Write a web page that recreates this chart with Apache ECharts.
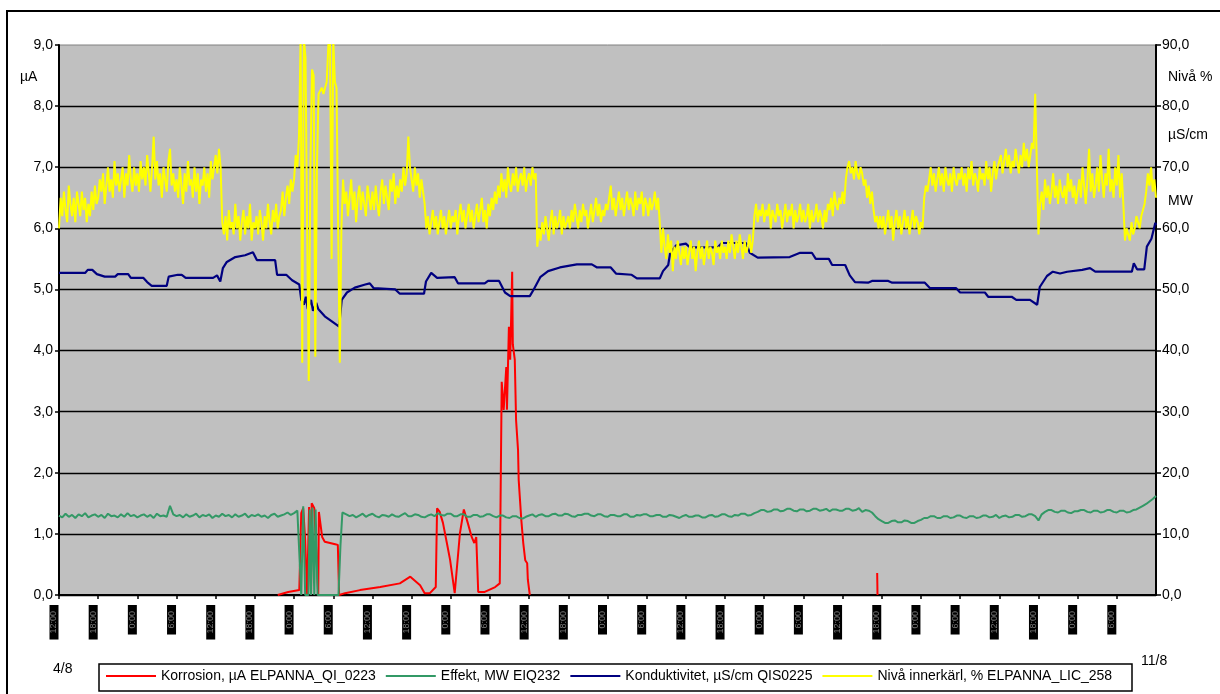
<!DOCTYPE html>
<html><head><meta charset="utf-8">
<script src="https://cdn.jsdelivr.net/npm/echarts@6/dist/echarts.min.js"></script>
<style>html,body{margin:0;padding:0;background:#fff}#c{width:1220px;height:694px}</style>
</head><body><div id="c"></div><script>
// ---- data (x in hours from start 4/8 12:00, 0..168) ----
const xTickLabels = ['12:00', '18:00', '0:00', '6:00'];
const leftTicks = { min: 0, max: 9, interval: 1 };
const rightTicks = { min: 0, max: 90, interval: 10 };
const seriesNames = ['Korrosion, µA ELPANNA_QI_0223', 'Effekt, MW EIQ232', 'Konduktivitet, µS/cm QIS0225', 'Nivå innerkärl, % ELPANNA_LIC_258'];

// Korrosion (µA, left axis) [hour, value]
const korrosion = [
  [33.5,0.0],[35.1,0.05],[36.8,0.08],[37.1,1.34],[37.4,1.42],[37.7,0.9],[38.0,0.0],[38.3,1.44],[38.6,0.0],[38.7,1.5],
  [39.1,1.42],[39.4,1.44],[39.7,0.0],[39.8,1.36],[40.3,0.95],[40.7,0.87],[42.3,0.83],[42.7,0.82],[42.9,0.0],[43.8,0.03],
  [46.1,0.08],[49.2,0.13],[52.2,0.19],[53.8,0.3],[55.3,0.16],[56.0,0.03],[56.8,0.03],[57.7,0.13],[57.9,1.42],[58.3,1.36],
  [58.8,1.18],[59.4,0.85],[59.9,0.57],[60.6,0.03],[61.4,1.01],[62.0,1.4],[62.6,1.18],[63.2,0.95],[63.6,0.85],[63.9,0.95],
  [64.2,0.05],[64.5,0.02],[65.2,0.05],[66.8,0.13],[67.5,0.19],[67.8,3.49],[68.1,3.03],[68.5,3.73],[68.6,3.03],[68.9,4.39],
  [69.1,3.85],[69.4,5.29],[69.5,4.1],[69.8,3.85],[70.0,2.86],[70.3,2.37],[70.4,1.88],[70.8,1.23],[71.1,0.85],[71.4,0.57],
  [71.7,0.52],[71.8,0.25],[72.1,0.0],[100,null],[125.3,0.36],[125.35,0.0]
];

// Effekt (MW, right axis): half-hourly h0..36.5, trip period as [hour, value], half-hourly h44..168
const effektBefore = [
  13.0,12.7,13.3,12.8,13.1,12.6,13.2,12.9,13.4,12.7,13.0,13.2,
  12.8,13.1,12.6,13.3,12.9,13.0,12.7,13.2,12.8,13.4,12.9,13.1,
  12.7,13.0,13.2,12.8,13.1,12.6,13.3,12.9,13.0,12.8,14.6,13.2,
  12.9,13.1,12.7,13.2,12.8,13.0,13.3,12.7,13.1,12.9,13.2,12.6,
  13.0,12.8,13.3,12.9,13.1,12.7,13.2,12.8,13.0,13.3,12.7,13.1,
  12.9,13.2,12.8,13.0,12.6,13.1,13.3,12.8,13.0,13.2,13.5,13.1,
  13.4,13.8
];
const effektTrip = [
  [36.8,13.8],[37.1,0],[37.4,14.5],[37.7,0],[38.2,0],[38.4,14.0],[38.6,0],[38.8,14.3],[39.1,0],[39.3,14.0],[39.6,0],
  [42.8,0],[43.1,8.0],[43.4,13.5]
];
const effektAfter = [
  13.2,12.9,13.1,12.7,13.0,13.3,12.8,13.1,
  13.3,12.9,12.7,13.1,13.0,12.8,13.2,12.9,12.8,13.1,13.4,12.9,
  12.9,13.2,13.1,12.8,12.7,13.0,13.2,12.9,13.4,13.1,13.0,13.3,
  13.3,12.9,12.9,13.2,13.2,12.8,12.8,13.1,13.1,12.8,12.9,13.2,
  13.2,12.9,12.7,13.0,13.0,12.7,12.6,12.9,12.9,12.6,12.5,12.8,
  13.0,13.2,12.8,13.1,13.2,12.9,12.9,13.2,13.3,13.0,13.0,13.3,
  13.2,12.9,12.8,13.1,13.1,13.3,13.3,13.0,12.9,13.2,13.2,12.9,
  12.8,13.1,13.1,12.9,12.9,13.2,13.2,12.8,12.8,13.1,13.0,13.2,
  13.2,12.9,12.9,13.1,13.1,12.8,12.8,13.1,13.0,12.8,12.6,12.9,
  13.1,12.8,12.8,13.0,13.0,12.7,12.7,13.0,13.1,12.8,12.9,13.2,
  13.2,12.9,12.8,13.1,13.0,13.3,13.3,13.0,13.1,13.4,13.6,13.9,
  13.9,13.6,13.7,14.0,14.0,13.7,13.8,14.1,14.1,13.8,13.7,14.0,
  14.0,13.7,13.8,14.1,14.1,13.8,13.9,14.1,13.7,14.0,14.0,13.8,
  13.8,14.1,14.1,13.8,13.9,14.2,13.6,13.9,13.8,13.5,12.9,12.4,
  12.1,11.8,11.8,12.1,12.2,11.9,11.9,12.2,12.1,11.8,11.8,12.1,
  12.3,12.6,12.6,12.9,12.9,12.6,12.6,12.9,12.9,12.6,12.7,13.0,
  13.0,12.7,12.6,12.9,12.9,12.6,12.7,13.0,13.0,12.7,12.8,13.1,
  12.6,12.9,13.0,12.7,12.8,13.1,13.1,12.8,12.9,13.2,13.2,12.9,
  12.2,13.2,13.6,13.9,13.9,13.6,13.5,13.8,13.8,13.5,13.4,13.7,
  13.7,13.9,13.9,13.6,13.5,13.8,13.8,13.5,13.6,13.9,13.9,13.6,
  13.5,13.8,13.8,13.5,13.6,13.9,14.0,14.3,14.6,14.9,15.3,15.7,
  16.2
];
const effektAfterStart = 44;
const effektStepHours = 0.5;

// Konduktivitet (µS/cm, right axis) [hour, value]
const konduktivitet = [
  [0,52.7],[4.0,52.7],[4.4,53.2],[5.1,53.2],[5.8,52.5],[7.0,52.1],[8.6,52.1],[9.0,52.5],[10.6,52.5],[11.0,51.9],
  [12.9,51.9],[13.5,51.2],[14.2,50.6],[16.5,50.6],[16.8,52.1],[18.2,52.4],[18.8,52.4],[19.4,51.9],[23.6,51.9],[24.2,52.3],
  [24.7,51.3],[25.1,53.5],[25.7,54.5],[27.0,55.3],[28.5,55.6],[29.7,56.1],[30.3,54.8],[33.1,54.8],[33.4,52.4],[34.8,52.4],
  [35.7,51.5],[36.8,50.8],[37.1,48.3],[37.5,47.5],[37.8,48.8],[38.1,46.8],[38.6,48.3],[38.9,46.5],[39.4,47.8],[39.7,46.8],
  [40.7,45.6],[42.0,44.6],[42.9,43.9],[43.3,48.3],[44.1,49.5],[45.3,50.3],[46.9,50.8],[47.6,51.0],[48.2,50.2],[51.5,50.0],
  [52.2,49.3],[55.9,49.3],[56.2,51.3],[57.0,52.7],[57.9,51.9],[60.6,52.0],[61.1,51.0],[65.2,51.0],[65.7,51.4],[67.4,51.4],
  [68.3,49.5],[69.1,48.9],[72.1,48.9],[72.7,50.0],[73.7,52.0],[74.9,53.0],[76.7,53.6],[79.3,54.1],[81.6,54.1],[82.4,53.6],
  [84.5,53.6],[85.3,52.6],[87.7,52.4],[88.5,51.8],[92.0,51.8],[92.5,53.0],[93.3,54.0],[93.6,56.0],[94.5,57.2],[96.0,57.5],
  [96.6,56.9],[100.9,56.9],[101.5,57.6],[105.2,57.6],[105.8,56.0],[107.0,55.2],[111.9,55.3],[113.5,56.0],[115.3,56.0],[115.9,55.0],
  [117.9,55.0],[118.4,54.0],[120.4,54.0],[121.1,52.3],[121.9,51.2],[123.9,51.1],[124.5,51.4],[127.0,51.4],[127.6,51.1],[132.6,51.1],
  [133.4,50.2],[137.4,50.2],[138.0,49.5],[141.8,49.5],[142.3,48.8],[145.9,48.8],[146.6,48.3],[148.7,48.3],[149.8,47.5],[150.2,50.4],
  [151.3,52.2],[152.2,52.9],[153.3,52.6],[154.4,52.9],[156.7,53.2],[157.9,53.5],[158.7,52.9],[164.3,52.9],[164.6,54.3],[165.1,53.3],
  [166.2,53.3],[166.6,57.0],[167.3,58.3],[167.9,60.9],[168,60.5]
];

// Nivå innerkärl (%, right axis), one value every quarter hour from 0 to 168
const nivaStepHours = 0.25;
const niva = [
  60,65,62,66,63,61,67,64,62,65,61,66,64,62,66,63,65,61,64,62,66,63,67,64,
  65,68,66,69,64,67,70,66,68,65,71,67,69,66,68,70,65,69,67,72,68,66,70,67,
  69,66,71,68,70,67,72,69,66,70,75,68,71,67,69,65,70,68,66,71,73,67,69,66,
  68,65,70,67,64,69,66,71,67,68,65,70,66,69,64,68,67,70,66,69,65,71,68,70,
  72,69,73,70,61,59,62,58,63,60,61,59,64,60,62,58,61,63,59,62,60,64,58,61,
  60,62,59,63,61,58,62,60,64,61,59,63,61,64,60,62,63,66,62,65,67,64,68,66,
  68,72,70,75,91,38,91,88,60,35,70,86,85,39,70,82,82,83,82,83,84,90,91,55,
  91,84,83,60,38,60,68,64,66,62,65,68,63,66,61,65,67,63,66,64,62,67,65,63,
  66,63,67,64,62,66,68,64,67,65,63,68,66,69,64,67,65,68,66,70,67,69,75,70,
  68,66,70,67,69,65,68,66,64,60,62,59,61,63,60,62,59,61,63,60,62,59,61,63,
  60,62,61,63,59,62,64,61,63,60,62,64,61,63,60,62,64,61,63,65,61,63,60,64,
  62,65,63,66,64,67,65,69,66,68,65,70,67,66,69,67,70,66,68,69,67,70,66,68,
  69,67,70,68,69,57,60,58,61,59,62,60,58,61,63,59,62,60,61,63,59,62,60,61,
  62,60,63,61,64,62,60,63,61,64,62,63,60,62,64,61,63,65,62,64,61,63,62,64,
  63,65,67,63,65,62,64,66,63,65,62,64,66,63,65,64,62,66,63,65,64,66,62,65,
  64,62,65,63,64,66,63,65,61,56,60,57,55,59,56,58,53,57,55,58,56,54,57,55,
  57,54,56,58,55,57,53,56,58,55,57,54,56,58,55,57,56,54,58,56,57,55,58,56,
  57,55,58,56,59,57,55,58,56,59,57,55,58,56,57,59,56,58,62,64,61,63,62,64,
  61,63,62,64,60,63,62,61,64,62,63,60,62,64,61,63,62,64,60,63,61,62,64,61,
  63,61,62,64,60,63,61,62,64,61,63,62,60,63,61,64,63,65,62,66,64,63,65,64,
  66,64,68,70,71,69,70,68,71,69,68,70,69,67,68,65,67,64,66,63,61,62,60,62,
  60,62,59,61,63,60,62,58,61,63,60,62,59,61,63,60,62,59,61,63,60,62,61,59,
  61,60,65,67,66,68,70,67,69,66,68,70,67,69,66,70,68,67,69,66,70,68,67,69,
  68,70,67,69,66,70,68,71,67,69,68,66,70,68,69,67,71,68,70,66,69,71,68,70,
  70,72,69,71,73,70,72,69,71,70,73,71,69,72,70,74,71,73,70,72,74,73,82,82,
  59,64,66,63,68,65,67,64,66,69,65,67,64,68,66,65,67,64,69,66,68,65,67,64,
  66,68,65,70,67,64,68,73,66,69,65,67,70,66,72,68,65,69,67,73,66,68,65,70,
  67,72,65,69,64,58,60,59,58,61,59,60,62,61,60,62,63,64,66,69,67,70,66,68,
  65
];

// ---- chart ----
const FONT = '"Liberation Sans", Arial, sans-serif';
const fmt = v => v.toFixed(1).replace('.', ',');
const chart = echarts.init(document.getElementById('c'), null, { renderer: 'canvas' });

const effektData = effektBefore.map((v, i) => [i * effektStepHours, v])
  .concat(effektTrip)
  .concat(effektAfter.map((v, i) => [effektAfterStart + i * effektStepHours, v]));
const nivaData = niva.map((v, i) => [i * nivaStepHours, v]);

chart.setOption({
  animation: false,
  backgroundColor: '#fff',
  textStyle: { fontFamily: FONT },
  grid: { left: 59, right: 64, top: 45, bottom: 99, show: true, backgroundColor: '#C0C0C0', borderColor: '#808080', borderWidth: 1 },
  legend: {
    left: 106, top: 669, padding: 0, itemWidth: 50, itemHeight: 2, itemGap: 10, icon: 'rect',
    textStyle: { fontSize: 14, color: '#000', fontFamily: FONT },
    data: seriesNames
  },
  graphic: [
    { type: 'rect', shape: { x: 7, y: 11, width: 1240, height: 720 }, style: { fill: 'none', stroke: '#000', lineWidth: 2 }, z: 0 },
    { type: 'rect', shape: { x: 99, y: 664, width: 1033, height: 27 }, style: { fill: '#fff', stroke: '#000', lineWidth: 1.5 }, z: 1 },
    { type: 'text', left: 20, top: 70, style: { text: 'µA', fontSize: 14, fill: '#000', fontFamily: FONT } },
    { type: 'text', left: 1168, top: 70, style: { text: 'Nivå %', fontSize: 14, fill: '#000', fontFamily: FONT } },
    { type: 'text', left: 1168, top: 128, style: { text: 'µS/cm', fontSize: 14, fill: '#000', fontFamily: FONT } },
    { type: 'text', left: 1168, top: 194, style: { text: 'MW', fontSize: 14, fill: '#000', fontFamily: FONT } },
    { type: 'text', left: 53, top: 662, style: { text: '4/8', fontSize: 14, fill: '#000', fontFamily: FONT } },
    { type: 'text', left: 1141, top: 654, style: { text: '11/8', fontSize: 14, fill: '#000', fontFamily: FONT } }
  ],
  xAxis: {
    type: 'value', min: 0, max: 168, interval: 6, z: 3,
    axisLine: { show: true, lineStyle: { color: '#000', width: 2 } },
    axisTick: { show: true, length: 4, lineStyle: { color: '#000', width: 1.5 } },
    splitLine: { show: false },
    axisLabel: {
      rotate: 90, margin: 10, showMaxLabel: false, padding: [0, 0, 10, 0],
      formatter: v => v >= 168 ? '' : '{t|' + xTickLabels[Math.round(v / 6) % 4] + '}',
      rich: { t: { backgroundColor: '#000', color: '#777', fontSize: 9, lineHeight: 9, padding: [0, 6, 0, 6], fontFamily: FONT } }
    }
  },
  yAxis: [
    {
      type: 'value', position: 'left', min: leftTicks.min, max: leftTicks.max, interval: leftTicks.interval, z: 3,
      axisLine: { show: true, lineStyle: { color: '#000', width: 2 } },
      axisTick: { show: true, length: 4, lineStyle: { color: '#000', width: 1.5 } },
      axisLabel: { formatter: fmt, color: '#000', fontSize: 14, margin: 6, fontFamily: FONT },
      splitLine: { show: true, showMaxLine: false, lineStyle: { color: '#000', width: 1.3 } }
    },
    {
      type: 'value', position: 'right', min: rightTicks.min, max: rightTicks.max, interval: rightTicks.interval, z: 3,
      axisLine: { show: true, lineStyle: { color: '#000', width: 2 } },
      axisTick: { show: true, length: 5, lineStyle: { color: '#000', width: 1.5 } },
      axisLabel: { formatter: fmt, color: '#000', fontSize: 14, margin: 6, fontFamily: FONT },
      splitLine: { show: false }
    }
  ],
  series: [
    { name: seriesNames[0], type: 'line', yAxisIndex: 0, data: korrosion, symbol: 'none', connectNulls: false,
      lineStyle: { color: '#FF0000', width: 2 }, itemStyle: { color: '#FF0000' } },
    { name: seriesNames[1], type: 'line', yAxisIndex: 1, data: effektData, symbol: 'none',
      lineStyle: { color: '#339966', width: 2 }, itemStyle: { color: '#339966' } },
    { name: seriesNames[2], type: 'line', yAxisIndex: 1, data: konduktivitet, symbol: 'none',
      lineStyle: { color: '#000080', width: 2.2 }, itemStyle: { color: '#000080' } },
    { name: seriesNames[3], type: 'line', yAxisIndex: 1, data: nivaData, symbol: 'none',
      lineStyle: { color: '#FFFF00', width: 2 }, itemStyle: { color: '#FFFF00' } }
  ]
});
</script></body></html>
